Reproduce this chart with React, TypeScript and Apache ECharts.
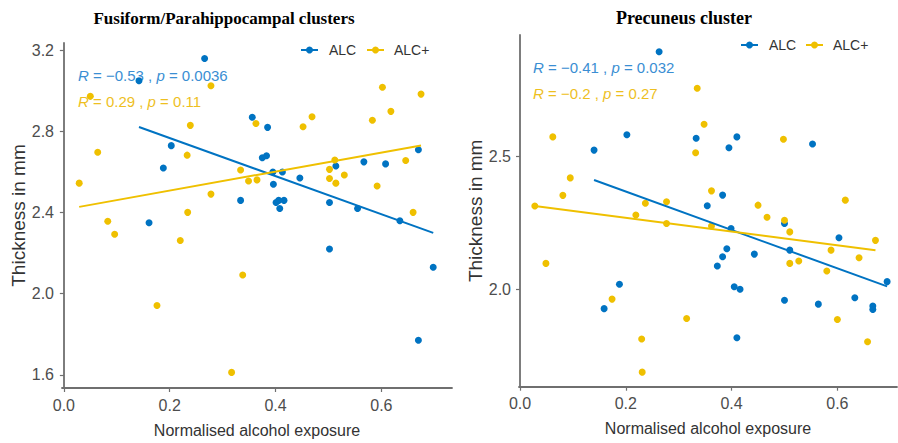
import React, { useEffect, useRef } from "react";
import * as echarts from "echarts";

const BLUE = "#0073C2";
const YELLOW = "#EFC000";
const SANS = "'Liberation Sans', Arial, sans-serif";

// Panel titles and series names
const panelTitles = ["Fusiform/Parahippocampal clusters", "Precuneus cluster"];
const groupNames = ["ALC", "ALC+"];

// Tick values
const xTicks = [0, 0.2, 0.4, 0.6];
const fusiformYTicks = [1.6, 2.0, 2.4, 2.8, 3.2];
const precuneusYTicks = [2.0, 2.5];

// Fusiform/Parahippocampal data [exposure, thickness]
const fusiformALC: [number, number][] = [
  [0.142, 3.05], [0.266, 3.16], [0.356, 2.87], [0.385, 2.82], [0.203, 2.73], [0.188, 2.62],
  [0.375, 2.67], [0.383, 2.68], [0.395, 2.6], [0.413, 2.6], [0.396, 2.54], [0.401, 2.45],
  [0.408, 2.42], [0.416, 2.46], [0.406, 2.46], [0.334, 2.46], [0.446, 2.57], [0.502, 2.45],
  [0.514, 2.63], [0.555, 2.42], [0.567, 2.65], [0.608, 2.64], [0.635, 2.36], [0.67, 2.71],
  [0.161, 2.35], [0.502, 2.22], [0.698, 2.13], [0.67, 1.77],
];
const fusiformALCPlus: [number, number][] = [
  [0.029, 2.545], [0.05, 2.973], [0.064, 2.697], [0.083, 2.357], [0.096, 2.293], [0.239, 2.83],
  [0.233, 2.683], [0.278, 2.491], [0.278, 3.025], [0.234, 2.401], [0.22, 2.262], [0.176, 1.942],
  [0.338, 2.092], [0.317, 1.612], [0.334, 2.61], [0.349, 2.556], [0.365, 2.561], [0.363, 2.839],
  [0.452, 2.823], [0.469, 2.872], [0.502, 2.613], [0.512, 2.659], [0.502, 2.568], [0.514, 2.545],
  [0.53, 2.585], [0.583, 2.855], [0.602, 3.018], [0.618, 2.899], [0.592, 2.531], [0.646, 2.657],
  [0.675, 2.984], [0.66, 2.401],
];
const fusiformALCFit: [number, number][] = [[0.142, 2.822], [0.698, 2.3]];
const fusiformALCPlusFit: [number, number][] = [[0.029, 2.428], [0.675, 2.731]];
const fusiformStats = [
  ["−0.53", "0.0036"],
  ["0.29", "0.11"],
];

// Precuneus data
const precuneusALC: [number, number][] = [
  [0.263, 2.897], [0.14, 2.525], [0.202, 2.583], [0.333, 2.57], [0.395, 2.534], [0.41, 2.575],
  [0.553, 2.548], [0.383, 2.355], [0.354, 2.315], [0.5, 2.248], [0.399, 2.229], [0.391, 2.152],
  [0.383, 2.122], [0.373, 2.087], [0.443, 2.132], [0.51, 2.147], [0.603, 2.194], [0.694, 2.028],
  [0.188, 2.018], [0.159, 1.926], [0.405, 2.009], [0.416, 1.999], [0.5, 1.958], [0.564, 1.943],
  [0.633, 1.967], [0.667, 1.936], [0.667, 1.923], [0.41, 1.816],
];
const precuneusALCPlus: [number, number][] = [
  [0.062, 2.575], [0.095, 2.42], [0.081, 2.354], [0.028, 2.314], [0.049, 2.097], [0.335, 2.759],
  [0.348, 2.623], [0.332, 2.515], [0.362, 2.371], [0.237, 2.324], [0.277, 2.33], [0.219, 2.28],
  [0.277, 2.248], [0.498, 2.566], [0.45, 2.317], [0.467, 2.271], [0.51, 2.216], [0.615, 2.336],
  [0.588, 2.147], [0.51, 2.097], [0.527, 2.106], [0.58, 2.068], [0.641, 2.118], [0.672, 2.184],
  [0.174, 1.962], [0.315, 1.889], [0.23, 1.811], [0.231, 1.686], [0.6, 1.885], [0.657, 1.801],
  [0.5, 2.26], [0.362, 2.238],
];
const precuneusALCFit: [number, number][] = [[0.14, 2.412], [0.694, 2.01]];
const precuneusALCPlusFit: [number, number][] = [[0.028, 2.314], [0.672, 2.147]];
const precuneusStats = [
  ["−0.41", "0.032"],
  ["−0.2", "0.27"],
];

export default function App() {
  const ref = useRef<HTMLDivElement>(null);
  useEffect(() => {
    const chart = echarts.init(ref.current!, null, { renderer: "svg" });
    const axisColor = "#6f6f6f";
    const mkX = (gridIndex: number, min: number, max: number) => ({
      type: "value",
      gridIndex,
      min,
      max,
      axisLine: { show: true, lineStyle: { color: axisColor, width: 1.8 } },
      axisTick: { show: true, customValues: xTicks, length: 4, lineStyle: { color: axisColor, width: 1.2 } },
      axisLabel: {
        customValues: xTicks,
        formatter: (v: number) => v.toFixed(1),
        color: "#4d4d4d",
        fontSize: 16,
        fontFamily: SANS,
        margin: 9,
      },
      splitLine: { show: false },
      name: "Normalised alcohol exposure",
      nameLocation: "middle",
      nameGap: 34,
      nameTextStyle: { color: "#333", fontSize: 16, fontFamily: SANS },
    });
    const mkY = (gridIndex: number, min: number, max: number, ticks: number[], gap: number) => ({
      type: "value",
      gridIndex,
      min,
      max,
      axisLine: { show: true, lineStyle: { color: axisColor, width: 1.8 } },
      axisTick: { show: true, customValues: ticks, length: 4, lineStyle: { color: axisColor, width: 1.2 } },
      axisLabel: {
        customValues: ticks,
        formatter: (v: number) => v.toFixed(1),
        color: "#4d4d4d",
        fontSize: 16,
        fontFamily: SANS,
        margin: 8,
      },
      splitLine: { show: false },
      name: "Thickness in mm",
      nameLocation: "middle",
      nameGap: gap,
      nameTextStyle: { color: "#333", fontSize: 19, fontFamily: SANS },
    });
    const scatter = (name: string, data: [number, number][], color: string, idx: number) => ({
      type: "scatter",
      name,
      xAxisIndex: idx,
      yAxisIndex: idx,
      data,
      symbol: "circle",
      symbolSize: 7,
      itemStyle: { color, opacity: 1 },
      z: 2,
    });
    const fit = (name: string, data: [number, number][], color: string, idx: number) => ({
      type: "line",
      name,
      xAxisIndex: idx,
      yAxisIndex: idx,
      data,
      showSymbol: false,
      symbol: "none",
      lineStyle: { color, width: 2 },
      z: 3,
    });
    const statText = (x: number, y: number, r: string, p: string, color: string) => ({
      type: "text",
      x,
      y,
      style: {
        text: `{i|R} = ${r} , {i|p} = ${p}`,
        fill: color,
        fontSize: 15,
        fontFamily: SANS,
        verticalAlign: "middle",
        rich: { i: { fontStyle: "italic", fontSize: 15, fontFamily: SANS, fill: color } },
      },
    });
    const legendItem = (x: number, y: number, color: string, label: string, textX: number) => [
      { type: "line", shape: { x1: x, y1: y, x2: x + 17, y2: y }, style: { stroke: color, lineWidth: 2 } },
      { type: "circle", shape: { cx: x + 8.5, cy: y, r: 3.5 }, style: { fill: color } },
      {
        type: "text",
        x: textX,
        y,
        style: { text: label, fill: "#333", fontSize: 14, fontFamily: SANS, verticalAlign: "middle" },
      },
    ];
    const titleText = (x: number, text: string, size: number) => ({
      type: "text",
      x,
      y: 18,
      style: {
        text,
        fill: "#000",
        fontSize: size,
        fontWeight: "bold",
        fontFamily: "'Liberation Serif', 'Times New Roman', serif",
        align: "center",
        verticalAlign: "middle",
      },
    });
    const option = {
      animation: false,
      backgroundColor: "#fff",
      grid: [
        { left: 62, top: 43, width: 390, height: 347 },
        { left: 519, top: 35, width: 378, height: 351.7 },
      ],
      xAxis: [mkX(0, -0.0035, 0.7335), mkX(1, -0.0019, 0.7127)],
      yAxis: [mkY(0, 1.535, 3.236, fusiformYTicks, 29), mkY(1, 1.631, 2.96, precuneusYTicks, 31)],
      series: [
        scatter(groupNames[0], fusiformALC, BLUE, 0),
        scatter(groupNames[1], fusiformALCPlus, YELLOW, 0),
        fit(groupNames[0] + " fit", fusiformALCFit, BLUE, 0),
        fit(groupNames[1] + " fit", fusiformALCPlusFit, YELLOW, 0),
        scatter(groupNames[0], precuneusALC, BLUE, 1),
        scatter(groupNames[1], precuneusALCPlus, YELLOW, 1),
        fit(groupNames[0] + " fit", precuneusALCFit, BLUE, 1),
        fit(groupNames[1] + " fit", precuneusALCPlusFit, YELLOW, 1),
      ],
      graphic: [
        titleText(224, panelTitles[0], 17),
        titleText(684, panelTitles[1], 18),
        statText(78, 75, fusiformStats[0][0], fusiformStats[0][1], "#3a8ed3"),
        statText(78, 101, fusiformStats[1][0], fusiformStats[1][1], "#eebf1f"),
        statText(533, 67, precuneusStats[0][0], precuneusStats[0][1], "#3a8ed3"),
        statText(533, 93, precuneusStats[1][0], precuneusStats[1][1], "#eebf1f"),
        ...legendItem(301, 50, BLUE, groupNames[0], 329),
        ...legendItem(367, 50, YELLOW, groupNames[1], 394),
        ...legendItem(741, 45, BLUE, groupNames[0], 769),
        ...legendItem(806, 45, YELLOW, groupNames[1], 833),
      ],
    };
    chart.setOption(option as any);
    return () => chart.dispose();
  }, []);
  return <div ref={ref} style={{ position: "fixed", left: 0, top: 0, width: 898, height: 443 }} />;
}
